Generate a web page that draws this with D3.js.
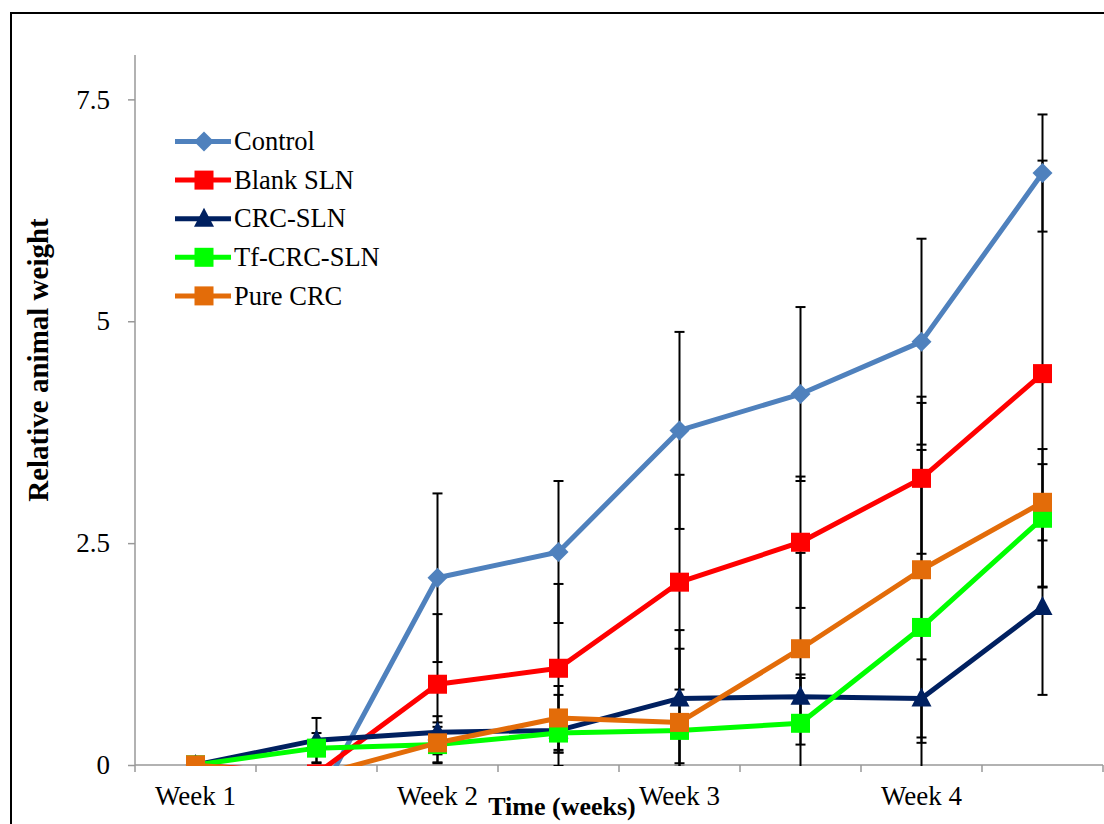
<!DOCTYPE html>
<html>
<head>
<meta charset="utf-8">
<script src="https://cdn.jsdelivr.net/npm/d3@7"></script>
<style>
  html, body { margin: 0; padding: 0; background: #fff; }
  svg { display: block; }
  text { font-family: "Liberation Serif", "Times New Roman", serif; fill: #000; }
</style>
</head>
<body>
<svg id="chart" width="1104" height="824"></svg>
<script>
// Time points (two per week) and their axis labels
const timePoints = [0, 1, 2, 3, 4, 5, 6, 7];
const weekLabels = ["Week 1", "", "Week 2", "", "Week 3", "", "Week 4", ""];
const yTicks = [0, 2.5, 5, 7.5];

// Relative animal weight (mean) and standard deviation per group
const seriesNames = ["Control", "Blank SLN", "CRC-SLN", "Tf-CRC-SLN", "Pure CRC"];
const controlMean = [0, -0.42, 2.11, 2.40, 3.77, 4.18, 4.77, 6.67];
const controlSD   = [0, 0.30, 0.95, 0.80, 1.11, 0.98, 1.16, 0.66];
const blankMean   = [0, -0.10, 0.91, 1.09, 2.06, 2.51, 3.23, 4.41];
const blankSD     = [0, 0.08, 0.79, 0.95, 1.21, 0.74, 0.85, 2.40];
const crcSlnMean  = [0, 0.28, 0.37, 0.39, 0.75, 0.77, 0.75, 1.78];
const crcSlnSD    = [0, 0.25, 0.18, 0.40, 0.77, 0.21, 0.44, 0.99];
const tfMean      = [0, 0.19, 0.23, 0.36, 0.39, 0.47, 1.55, 2.78];
const tfSD        = [0, 0.17, 0.20, 0.22, 0.37, 0.55, 2.00, 0.78];
const pureMean    = [0, -0.12, 0.25, 0.53, 0.48, 1.31, 2.20, 2.96];
const pureSD      = [0, 0.10, 0.23, 0.36, 0.83, 1.08, 1.95, 0.43];

const colors  = ["#4F81BD", "#FF0000", "#002060", "#00FF00", "#E36C09"];
const symbols = ["diamond", "square", "triangle", "square", "square"];

const series = seriesNames.map((name, i) => ({
  name,
  mean: [controlMean, blankMean, crcSlnMean, tfMean, pureMean][i],
  sd: [controlSD, blankSD, crcSlnSD, tfSD, pureSD][i],
  color: colors[i],
  symbol: symbols[i]
}));

const svg = d3.select("#chart");
const plot = { left: 135, right: 1103, top: 55, bottom: 765 };
const serif = '"Liberation Serif", "Times New Roman", serif';

const x = d3.scaleBand().domain(timePoints).range([plot.left, plot.right]);
const y = d3.scaleLinear().domain([0, 8]).range([plot.bottom, plot.top]);
const cx = i => x(i) + x.bandwidth() / 2;

// Outer frame
svg.append("rect")
  .attr("x", 11).attr("y", 13).attr("width", 1200).attr("height", 900)
  .attr("fill", "none").attr("stroke", "#000").attr("stroke-width", 2);

// Clip to plot area
svg.append("defs").append("clipPath").attr("id", "plotClip")
  .append("rect").attr("x", plot.left).attr("y", 0)
  .attr("width", plot.right - plot.left).attr("height", plot.bottom + 1);

// Y axis
const yAxis = svg.append("g").attr("transform", `translate(${plot.left},0)`)
  .call(d3.axisLeft(y).tickValues(yTicks).tickFormat(d => String(d)).tickSize(7).tickPadding(18));
yAxis.attr("font-family", serif);
yAxis.select(".domain").attr("d", `M0,${plot.top}V${plot.bottom}`);
yAxis.selectAll("path, line").attr("stroke", "#999").attr("stroke-width", 1.5);
yAxis.selectAll("text").style("font-size", "27px").style("font-family", serif);

// X axis: labels at every other time point, ticks at category boundaries
const xAxis = svg.append("g").attr("transform", `translate(0,${plot.bottom})`)
  .call(d3.axisBottom(x).tickFormat(i => weekLabels[i]).tickSize(0).tickPadding(21));
xAxis.attr("font-family", serif);
xAxis.select(".domain").attr("d", `M${plot.left},0H${plot.right}`)
  .attr("stroke", "#999").attr("stroke-width", 1.5);
xAxis.selectAll("text").style("font-size", "27px").style("font-family", serif);
const boundaries = timePoints.map(i => x(i)).concat([x.range()[1]]);
xAxis.selectAll(".boundary").data(boundaries).enter().append("line")
  .attr("x1", d => d).attr("x2", d => d).attr("y1", 0).attr("y2", 7)
  .attr("stroke", "#999").attr("stroke-width", 1.5);

// Axis titles
svg.append("text")
  .attr("transform", `translate(48,360) rotate(-90)`)
  .attr("text-anchor", "middle")
  .style("font-size", "29px").style("font-weight", "bold")
  .text("Relative animal weight");
svg.append("text")
  .attr("x", 562).attr("y", 815)
  .attr("text-anchor", "middle")
  .style("font-size", "26px").style("font-weight", "bold")
  .text("Time (weeks)");

const plotG = svg.append("g").attr("clip-path", "url(#plotClip)");

// Error bars
const capHalf = 5;
series.forEach(s => {
  const g = plotG.append("g").attr("class", "errorbars");
  const pts = timePoints.filter(i => s.sd[i] > 0);
  g.selectAll("line.stem").data(pts).enter().append("line")
    .attr("x1", cx).attr("x2", cx)
    .attr("y1", i => y(s.mean[i] + s.sd[i])).attr("y2", i => y(s.mean[i] - s.sd[i]))
    .attr("stroke", "#000").attr("stroke-width", 2);
  [1, -1].forEach(sign => {
    g.selectAll(null).data(pts).enter().append("line")
      .attr("x1", i => cx(i) - capHalf).attr("x2", i => cx(i) + capHalf)
      .attr("y1", i => y(s.mean[i] + sign * s.sd[i]))
      .attr("y2", i => y(s.mean[i] + sign * s.sd[i]))
      .attr("stroke", "#000").attr("stroke-width", 2);
  });
});

// Marker shapes
function marker(sel, type, color) {
  if (type === "diamond") {
    sel.append("path").attr("d", "M0,-10L10,0L0,10L-10,0Z").attr("fill", color);
  } else if (type === "triangle") {
    sel.append("path").attr("d", "M0,-11L10,8L-10,8Z").attr("fill", color);
  } else {
    sel.append("rect").attr("x", -9.5).attr("y", -9.5).attr("width", 19).attr("height", 19).attr("fill", color);
  }
}

const line = d3.line().x(cx);

// Lines and markers
series.forEach(s => {
  plotG.append("path")
    .attr("d", line.y(i => y(s.mean[i]))(timePoints))
    .attr("fill", "none").attr("stroke", s.color).attr("stroke-width", 5)
    .attr("stroke-linejoin", "round");
});
series.forEach(s => {
  timePoints.forEach(i => {
    const g = plotG.append("g").attr("transform", `translate(${cx(i)},${y(s.mean[i])})`);
    marker(g, s.symbol, s.color);
  });
});

// Legend
const legend = svg.append("g");
series.forEach((s, k) => {
  const ly = 141.5 + k * 38.6;
  legend.append("line").attr("x1", 175).attr("x2", 231).attr("y1", ly).attr("y2", ly)
    .attr("stroke", s.color).attr("stroke-width", 5);
  marker(legend.append("g").attr("transform", `translate(204,${ly})`), s.symbol, s.color);
  legend.append("text").attr("x", 234).attr("y", ly).attr("dy", "0.33em")
    .style("font-size", "26.5px").text(s.name);
});
</script>
</body>
</html>
